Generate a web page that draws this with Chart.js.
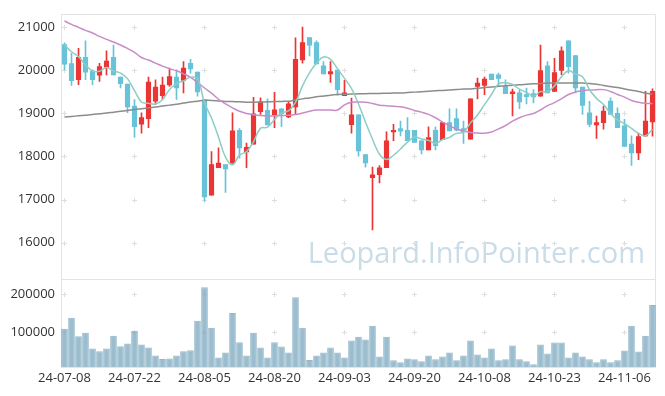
<!DOCTYPE html>
<html>
<head>
<meta charset="utf-8">
<script src="https://cdn.jsdelivr.net/npm/chart.js@4.4.1/dist/chart.umd.min.js"></script>
<style>
  html, body { margin: 0; padding: 0; background: #fff; }
  #wrap { width: 665px; height: 396px; }
</style>
</head>
<body>
<div id="wrap"><canvas id="stock-chart" width="665" height="396"></canvas></div>
<script>
"use strict";

const dates = [
	"24-07-08","24-07-09","24-07-10","24-07-11","24-07-12","24-07-15","24-07-16","24-07-17","24-07-18","24-07-19",
	"24-07-22","24-07-23","24-07-24","24-07-25","24-07-26","24-07-29","24-07-30","24-07-31","24-08-01","24-08-02",
	"24-08-05","24-08-06","24-08-07","24-08-08","24-08-09","24-08-12","24-08-13","24-08-14","24-08-16","24-08-19",
	"24-08-20","24-08-21","24-08-22","24-08-23","24-08-26","24-08-27","24-08-28","24-08-29","24-08-30","24-09-02",
	"24-09-03","24-09-04","24-09-05","24-09-06","24-09-09","24-09-10","24-09-11","24-09-12","24-09-13","24-09-19",
	"24-09-20","24-09-23","24-09-24","24-09-25","24-09-26","24-09-27","24-09-30","24-10-02","24-10-04","24-10-07",
	"24-10-08","24-10-10","24-10-11","24-10-14","24-10-15","24-10-16","24-10-17","24-10-18","24-10-21","24-10-22",
	"24-10-23","24-10-24","24-10-25","24-10-28","24-10-29","24-10-30","24-10-31","24-11-01","24-11-04","24-11-05",
	"24-11-06","24-11-07","24-11-08","24-11-11","24-11-12"
];

const openPrices = [
	20602,20158,19783,20304,19982,19890,20074,20304,19844,19683,
	19170,18748,18878,19284,19415,19660,19844,19767,20166,19959,
	19323,17101,17737,17813,17844,18610,18104,18288,19039,19070,
	18970,19108,18917,19154,20242,20763,20648,20104,19920,20005,
	19415,18740,18970,18043,17507,17576,17737,18572,18648,18610,
	18610,18365,18150,18610,18388,18786,18878,18648,18403,19629,
	19652,19913,19898,19629,19461,19476,19438,19461,19400,20104,
	19514,19997,20687,20342,19614,19016,18733,18787,19285,19000,
	18710,18287,18080,18480,18802
];

const highPrices = [
	20641,20396,20510,20687,20012,20166,20457,20587,19844,19683,
	19323,19016,19844,19783,19844,20051,20012,20204,20258,19959,
	19323,18112,18200,17813,19016,18648,18311,19376,19361,19338,
	19491,19108,19284,20756,21009,20763,20687,20204,20204,20005,
	19767,19354,18970,18043,17752,17790,18572,18748,18824,18901,
	18610,18365,18687,18687,18786,19108,19108,18824,19338,19821,
	19844,19913,19936,19783,19568,19537,19591,19553,20587,20204,
	20281,20549,20687,20342,19614,19280,18940,19170,19361,19131,
	18863,18480,18540,19515,19570
];

const lowPrices = [
	20012,19652,19668,19783,19668,19744,19897,19897,19591,19016,
	18442,18541,18671,19208,19323,19629,19323,19476,19936,19400,
	16963,17101,17737,17162,17844,17959,17737,18288,18978,18732,
	18671,18694,18901,18993,20166,20334,20150,19920,19721,19422,
	19415,18541,18005,17752,16296,17384,17737,18365,18480,18365,
	18326,18058,18150,18150,18388,18595,18595,18304,18403,19338,
	19438,19783,19629,19461,18940,19108,19223,19246,19400,19476,
	19514,19898,19936,19476,18977,18694,18418,18632,18977,18671,
	18234,17790,17925,18465,18470
];

const closePrices = [
	20143,19760,20304,19959,19783,20089,20216,19897,19691,19154,
	18694,18901,19729,19614,19660,19859,19591,20051,20035,19499,
	17062,17813,17845,17713,18595,18196,18211,18993,19269,18732,
	19085,18993,19223,20258,20648,20587,20150,19920,19974,19553,
	19476,18970,18127,17851,17576,17737,18365,18610,18587,18365,
	18326,18150,18441,18250,18786,18595,18610,18572,19338,19706,
	19798,19783,19813,19461,19499,19269,19392,19384,19997,19476,
	19951,20457,20089,19591,19184,18747,18786,19055,18977,18671,
	18234,18080,18464,18825,19515
];

const volumes = [
	109000,137500,88800,98400,56800,49700,56800,90600,62800,69800,
	103600,67200,59400,38500,28900,30700,38500,49700,52300,129700,
	218000,111500,33300,46400,150500,73200,38500,98400,59400,33300,
	73200,62000,46400,192000,111500,26300,38500,46400,59400,46400,
	33300,77600,88000,80200,116700,35900,88000,25500,20300,30700,
	28100,22900,38500,28100,35900,46400,25500,38500,77600,41100,
	33300,56800,25500,28100,64600,28100,22900,15100,67200,43800,
	72400,72400,33300,46400,35900,28100,20300,28100,20300,25500,
	51500,116700,49000,90600,171400
];

const ma5 = [
	20587,20434,20319,20127,19990,19979,20070,19989,19935,19809,
	19530,19267,19234,19218,19320,19553,19691,19755,19839,19807,
	19248,18892,18451,17986,17806,18032,18112,18342,18653,18680,
	18858,19014,19060,19258,19641,19942,20173,20313,20256,20037,
	19815,19579,19220,18795,18400,18052,17931,18028,18175,18333,
	18451,18408,18374,18306,18391,18444,18536,18563,18780,18964,
	19205,19439,19688,19712,19671,19565,19487,19401,19508,19504,
	19640,19853,19994,19913,19855,19550,19350,19207,19000,18850,
	18760,18650,18540,18480,18632
];

const ma20 = [
	21147,21070,21000,20930,20870,20790,20720,20660,20590,20510,
	20420,20300,20240,20170,20100,20040,19990,19920,19840,19720,
	19591,19470,19330,19220,19130,19050,19000,18970,18950,18940,
	18945,18950,18955,18975,19010,19050,19078,19080,19080,19078,
	19200,19261,19265,19261,19230,19190,19180,19165,19154,19120,
	19070,19030,18978,18900,18800,18710,18640,18590,18557,18545,
	18541,18570,18640,18720,18820,18901,18960,19000,19080,19180,
	19250,19340,19440,19500,19530,19545,19553,19553,19510,19440,
	19380,19300,19260,19235,19230
];

const ma60 = [
	18917,18930,18945,18960,18975,18993,19010,19030,19050,19070,
	19093,19110,19130,19150,19170,19193,19215,19240,19265,19284,
	19307,19300,19290,19280,19275,19270,19262,19262,19265,19270,
	19275,19280,19285,19310,19338,19360,19385,19405,19425,19438,
	19445,19450,19455,19460,19462,19465,19470,19473,19476,19485,
	19495,19505,19514,19525,19535,19545,19555,19565,19570,19585,
	19600,19615,19630,19645,19655,19668,19678,19688,19695,19705,
	19706,19708,19708,19707,19706,19695,19680,19650,19625,19600,
	19568,19540,19510,19470,19450
];

const priceTicks = [16000, 17000, 18000, 19000, 20000, 21000];
const volumeTicks = [100000, 200000];
const labelEvery = 10;

const UP = "#eb3434";
const DOWN = "#68c2d8";

const candleColors = openPrices.map((o, i) => closePrices[i] >= o ? UP : DOWN);

Chart.defaults.font.family = "'Open Sans', 'Noto Sans', sans-serif";
Chart.defaults.font.size = 13;
Chart.defaults.color = "#333";

// frame, "+" grid marks and watermark
const framePlugin = {
	id: "frame",
	beforeDatasetsDraw(chart){
		const {ctx, chartArea: a, scales} = chart;
		ctx.save();

		ctx.font = "29px 'Open Sans', 'Noto Sans', sans-serif";
		ctx.fillStyle = "#c9dce8";
		ctx.textAlign = "right";
		ctx.textBaseline = "alphabetic";
		ctx.fillText("Leopard.InfoPointer.com", a.right - 11, scales.y.bottom - 16);

		ctx.strokeStyle = "#dedede";
		ctx.lineWidth = 1;
		const xs = [];
		for (let i = 0; i < dates.length; i += labelEvery) xs.push(Math.round(scales.x.getPixelForValue(i)) - 0.5);
		const ys = [];
		priceTicks.forEach(v => ys.push(Math.round(scales.y.getPixelForValue(v)) + 0.5));
		volumeTicks.forEach(v => ys.push(Math.round(scales.yv.getPixelForValue(v)) + 0.5));
		ctx.beginPath();
		xs.forEach(x => {
			ys.forEach(y => {
				ctx.moveTo(x - 2.5, y); ctx.lineTo(x + 2.5, y);
				ctx.moveTo(x, y - 2.5); ctx.lineTo(x, y + 2.5);
			});
		});
		ctx.stroke();

		ctx.strokeStyle = "#e3e3e3";
		const sep = Math.round(scales.y.bottom) + 0.5;
		ctx.beginPath();
		ctx.rect(Math.round(a.left) + 0.5, Math.round(a.top) + 0.5, Math.round(a.right - a.left) - 1, Math.round(a.bottom - a.top));
		ctx.moveTo(a.left, sep);
		ctx.lineTo(a.right, sep);
		ctx.stroke();
		ctx.restore();
	}
};

const ctx = document.querySelector("#stock-chart").getContext("2d");

new Chart(ctx, {
	data: {
		labels: dates,
		datasets: [
			{
				type: "line",
				label: "MA5",
				data: ma5,
				yAxisID: "y",
				borderColor: "#8dcdc3",
				borderWidth: 1.5,
				pointRadius: 0,
				tension: 0.4,
				order: 0
			},
			{
				type: "line",
				label: "MA20",
				data: ma20,
				yAxisID: "y",
				borderColor: "#c98cc8",
				borderWidth: 1.5,
				pointRadius: 0,
				tension: 0.4,
				order: 0
			},
			{
				type: "line",
				label: "MA60",
				data: ma60,
				yAxisID: "y",
				borderColor: "#8c8c8c",
				borderWidth: 1.5,
				pointRadius: 0,
				tension: 0.4,
				order: 0
			},
			{
				type: "bar",
				label: "wick",
				data: lowPrices.map((l, i) => [l, highPrices[i]]),
				yAxisID: "y",
				backgroundColor: candleColors,
				barThickness: 1,
				grouped: false,
				order: 3
			},
			{
				type: "bar",
				label: "body",
				data: openPrices.map((o, i) => [o, closePrices[i]]),
				yAxisID: "y",
				backgroundColor: candleColors,
				barThickness: 4.5,
				minBarLength: 1,
				grouped: false,
				order: 2
			},
			{
				type: "bar",
				label: "volume",
				data: volumes,
				yAxisID: "yv",
				backgroundColor: "rgba(120, 168, 192, 0.75)",
				borderColor: "rgba(80, 135, 160, 0.6)",
				borderWidth: 1,
				barPercentage: 0.95,
				categoryPercentage: 1,
				grouped: false,
				order: 4
			}
		]
	},
	options: {
		responsive: false,
		animation: false,
		layout: { padding: { top: 10, right: 9, left: 0, bottom: 0 } },
		plugins: {
			legend: { display: false },
			tooltip: { enabled: false }
		},
		scales: {
			x: {
				type: "category",
				offset: true,
				grid: { display: false, drawTicks: false },
				border: { display: false },
				ticks: {
					autoSkip: false,
					maxRotation: 0,
					padding: 3,
					callback: (v, i) => i % labelEvery === 0 ? dates[i] : ""
				},
				afterFit: s => { s.height = 29; }
			},
			yv: {
				type: "linear",
				position: "left",
				stack: "panes",
				stackWeight: 89,
				min: 8000,
				max: 240000,
				grid: { display: false, drawTicks: false },
				border: { display: false },
				ticks: { padding: 6, callback: v => String(v) },
				afterBuildTicks: s => { s.ticks = volumeTicks.map(v => ({value: v})); },
				afterFit: s => { s.width = 61; }
			},
			y: {
				type: "linear",
				position: "left",
				stack: "panes",
				stackWeight: 268,
				min: 15154,
				max: 21315,
				grid: { display: false, drawTicks: false },
				border: { display: false },
				ticks: { padding: 6, callback: v => String(v) },
				afterBuildTicks: s => { s.ticks = priceTicks.map(v => ({value: v})); },
				afterFit: s => { s.width = 61; }
			}
		}
	},
	plugins: [framePlugin]
});
</script>
</body>
</html>
